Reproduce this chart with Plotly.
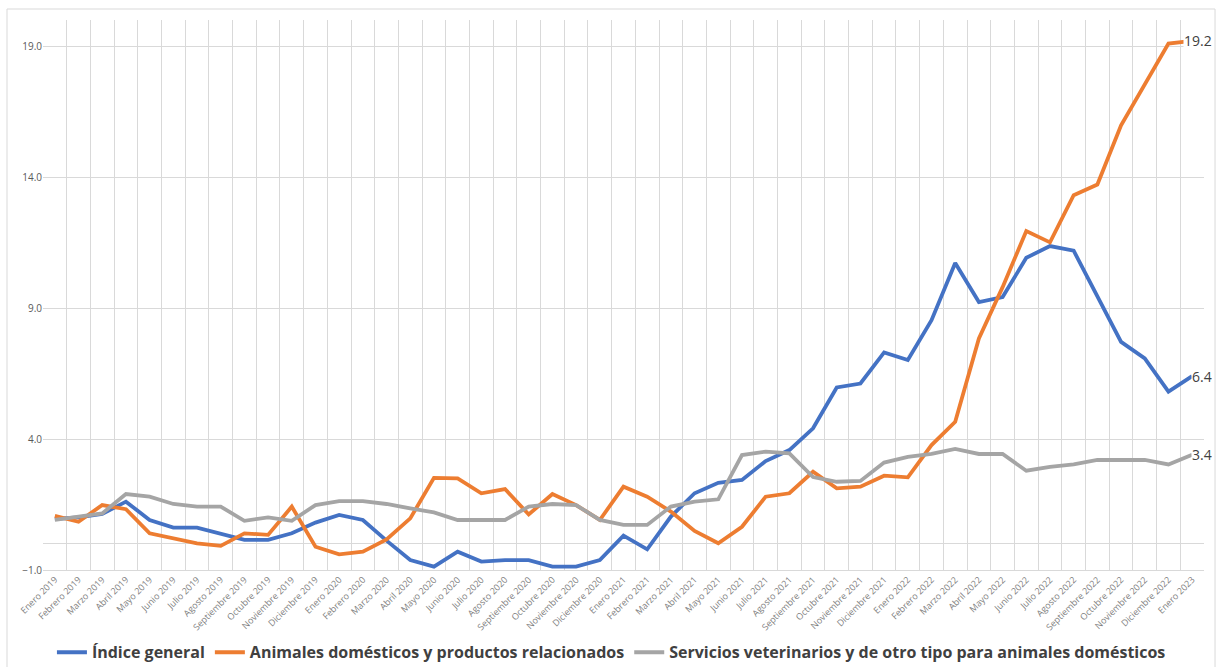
import plotly.graph_objects as go

months = ["Enero", "Febrero", "Marzo", "Abril", "Mayo", "Junio", "Julio", "Agosto",
          "Septiembre", "Octubre", "Noviembre", "Diciembre"]
categories = [f"{m} {y}" for y in (2019, 2020, 2021, 2022) for m in months] + ["Enero 2023"]

indice_general = [0.95, 1.01, 1.14, 1.61, 0.91, 0.62, 0.62, 0.40, 0.15, 0.15, 0.40, 0.81,
                  1.10, 0.91, 0.12, -0.62, -0.87, -0.30, -0.68, -0.62, -0.62, -0.87, -0.87, -0.62,
                  0.31, -0.21, 1.04, 1.93, 2.33, 2.44, 3.16, 3.58, 4.41, 5.97, 6.12, 7.31,
                  7.02, 8.54, 10.72, 9.23, 9.42, 10.92, 11.37, 11.19, 9.43, 7.71, 7.08, 5.81,
                  6.4]
animales = [1.07, 0.84, 1.48, 1.32, 0.40, 0.21, 0.02, -0.08, 0.40, 0.34, 1.42, -0.11,
            -0.40, -0.30, 0.17, 0.97, 2.52, 2.50, 1.93, 2.09, 1.12, 1.90, 1.48, 0.91,
            2.18, 1.80, 1.23, 0.49, 0.02, 0.65, 1.80, 1.93, 2.75, 2.12, 2.18, 2.60,
            2.54, 3.77, 4.66, 7.84, 9.80, 11.94, 11.51, 13.31, 13.72, 15.98, 17.51, 19.1,
            19.2]
servicios = [0.91, 1.04, 1.16, 1.90, 1.80, 1.52, 1.42, 1.42, 0.88, 1.01, 0.88, 1.48,
             1.63, 1.63, 1.52, 1.35, 1.20, 0.91, 0.91, 0.91, 1.42, 1.52, 1.48, 0.91,
             0.72, 0.72, 1.42, 1.61, 1.70, 3.39, 3.52, 3.45, 2.55, 2.37, 2.40, 3.10,
             3.32, 3.43, 3.62, 3.43, 3.43, 2.79, 2.94, 3.03, 3.20, 3.20, 3.20, 3.03,
             3.4]

series = [
    ("Índice general", indice_general, "#4472C4"),
    ("Animales domésticos y productos relacionados", animales, "#ED7D31"),
    ("Servicios veterinarios y de otro tipo para animales domésticos", servicios, "#A5A5A5"),
]
y_ticks = [-1.0, 4.0, 9.0, 14.0, 19.0]

fig = go.Figure()
for name, vals, color in series:
    fig.add_trace(go.Scatter(x=categories, y=vals, name=name, mode="lines",
                             line=dict(color=color, width=3.8)))

for name, vals, color in series:
    fig.add_annotation(x=categories[-1], y=vals[-1], text=f"{vals[-1]:.1f}",
                       xanchor="right", yanchor="middle", xshift=21, showarrow=False,
                       bgcolor="white", borderpad=0,
                       font=dict(family="Open Sans", size=14, color="#404040"))

fig.add_shape(type="rect", xref="paper", yref="paper", x0=-0.031, x1=1.0095, y0=-0.2, y1=1.02,
              line=dict(color="#D9D9D9", width=1), layer="below")

fig.update_layout(
    width=1218, height=667,
    margin=dict(l=43, r=14, t=20, b=97, autoexpand=False),
    paper_bgcolor="white", plot_bgcolor="white",
    font=dict(family="Open Sans", color="#595959"),
    showlegend=True,
    legend=dict(orientation="h", x=0.502, xref="container", xanchor="center",
                y=0.022, yref="container", yanchor="middle",
                font=dict(family="Open Sans", size=16, color="#404040", weight=700),
                itemwidth=30, tracegroupgap=0, entrywidth=0),
    xaxis=dict(type="category", tickson="boundaries", showgrid=True, gridcolor="#D9D9D9",
               gridwidth=1, ticks="", tickangle=-45, tickfont=dict(size=9, color="#7F7F7F"),
               range=[-0.5, len(categories) - 0.5], showline=True, linecolor="#D9D9D9",
               zeroline=False),
    yaxis=dict(range=[-1, 20], tickvals=y_ticks, tickformat=".1f", showgrid=True,
               gridcolor="#D9D9D9", gridwidth=1, zeroline=True, zerolinecolor="#D9D9D9",
               zerolinewidth=1, tickfont=dict(size=10, color="#595959"), ticks="",
               showline=False),
)

fig.write_html("out.html", config={"displayModeBar": False},
               post_script="document.body.style.margin='0';document.body.style.overflow='hidden';")
